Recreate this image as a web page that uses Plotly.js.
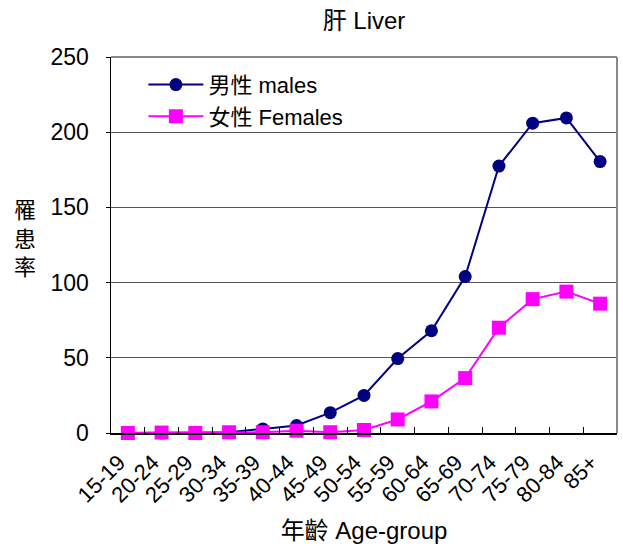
<!DOCTYPE html>
<html>
<head>
<meta charset="utf-8">
<script src="https://cdn.plot.ly/plotly-3.0.1.min.js"></script>
<style>html,body{margin:0;padding:0;background:#fff;}#chart{width:623px;height:549px;}</style>
</head>
<body>
<div id="chart"></div>
<script>
const ageGroups = ["15-19","20-24","25-29","30-34","35-39","40-44","45-49","50-54","55-59","60-64","65-69","70-74","75-79","80-84","85+"];
const males   = [0, 0, 0.5, 0.5, 2.7, 5, 13.5, 25, 49.5, 68, 104, 177.5, 206, 209.5, 180.5];
const females = [0, 0.3, 0, 0.5, 0.5, 1.5, 0.5, 2, 9, 21, 36.5, 70, 89, 94, 86];
const maleName = "男性 males";
const femaleName = "女性 Females";
const titleText = "肝 Liver";
const xTitle = "年齡 Age-group";
const yTitle = "罹<br>患<br>率";
const yTicks = [0, 50, 100, 150, 200, 250];

const FONT = "Liberation Sans, Arial, Noto Sans CJK TC, sans-serif";

const traces = [
  {x: ageGroups, y: males, name: maleName, type: "scatter", mode: "lines+markers",
   line: {color: "#000080", width: 2}, marker: {symbol: "circle", size: 13, color: "#000080"}, cliponaxis: false},
  {x: ageGroups, y: females, name: femaleName, type: "scatter", mode: "lines+markers",
   line: {color: "#FF00FF", width: 2}, marker: {symbol: "square", size: 14, color: "#FF00FF"}, cliponaxis: false}
];

const layout = {
  width: 623, height: 549,
  margin: {l: 111, r: 6, t: 57, b: 116},
  paper_bgcolor: "#fff", plot_bgcolor: "#fff",
  font: {family: FONT, color: "#000"},
  title: {text: titleText, font: {size: 24, family: FONT}, x: 0.5, xref: "paper", y: 0.963, yanchor: "middle"},
  showlegend: true,
  legend: {x: 0.064, y: 0.982, xanchor: "left", yanchor: "top", bgcolor: "rgba(0,0,0,0)",
           font: {size: 22, family: FONT}, tracegroupgap: 0, itemwidth: 55},
  xaxis: {
    type: "category", range: [-0.5, 14.5], tickangle: -45,
    ticks: "inside", tickson: "boundaries", ticklen: 6, tickcolor: "#000", tickwidth: 1,
    showline: true, linecolor: "#000", linewidth: 2, showgrid: false, zeroline: false,
    tickfont: {size: 22, family: FONT}, ticklabelstandoff: 6, ticklabelshift: -9,
    title: {text: xTitle, font: {size: 24, family: FONT}, standoff: 16}
  },
  yaxis: {
    range: [0, 250], tickvals: yTicks, ticks: "outside", ticklen: 4, tickcolor: "#000",
    showline: true, linecolor: "#000", linewidth: 1.5,
    showgrid: true, gridcolor: "#555", gridwidth: 1, zeroline: false,
    tickfont: {size: 23, family: FONT}, ticklabelstandoff: 12
  },
  shapes: [
    {type: "line", xref: "paper", yref: "paper", x0: 0, x1: 1, y0: 1, y1: 1, line: {color: "#888", width: 2}},
    {type: "line", xref: "paper", yref: "paper", x0: 1, x1: 1, y0: 0, y1: 1, line: {color: "#888", width: 2}}
  ],
  annotations: [
    {text: yTitle, xref: "paper", yref: "paper", x: -0.17, y: 0.515, xanchor: "center", yanchor: "middle",
     showarrow: false, font: {size: 22, family: FONT}, align: "center"}
  ]
};

Plotly.newPlot("chart", traces, layout, {displayModeBar: false, staticPlot: true});
</script>
</body>
</html>
